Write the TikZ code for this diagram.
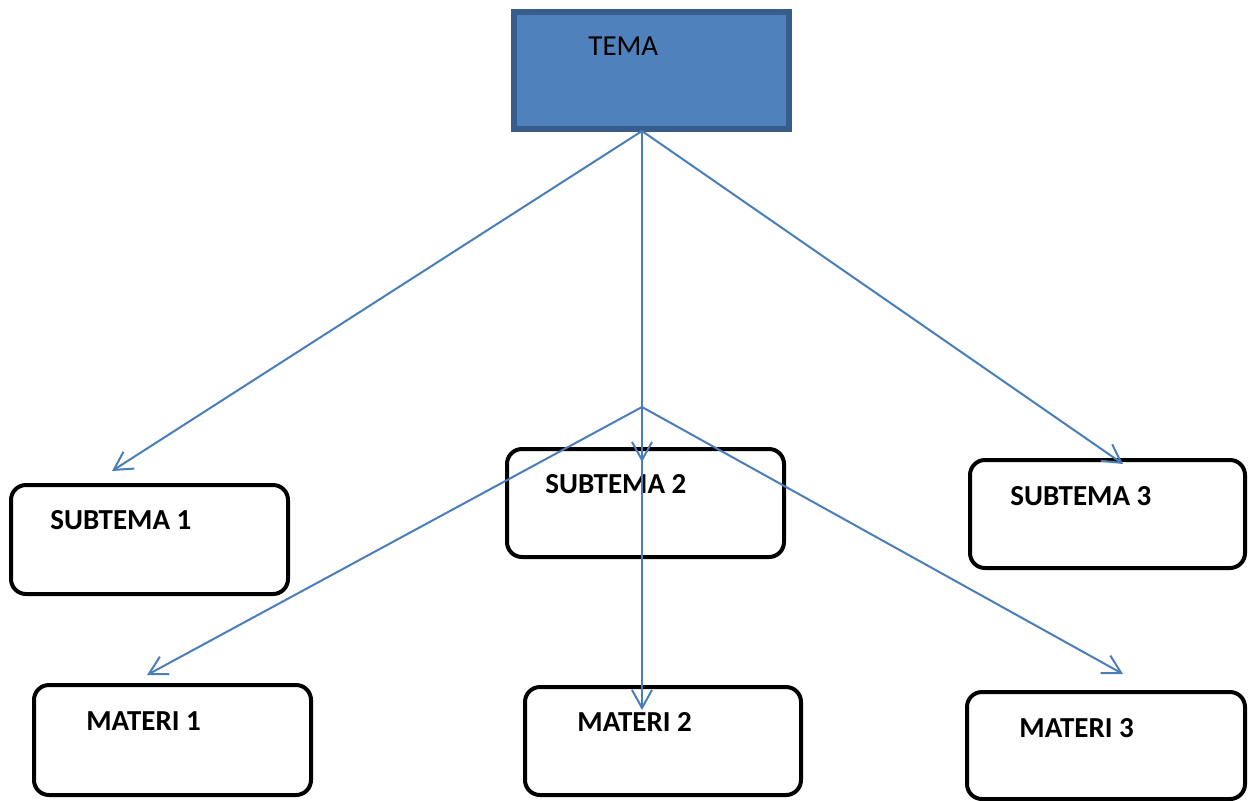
\documentclass[tikz,border=0pt]{standalone}
\usepackage{fontspec}
\setmainfont{Carlito}
\usetikzlibrary{arrows.meta}
\definecolor{arrowblue}{HTML}{4A7EBB}
\definecolor{temafill}{HTML}{4F81BD}
\definecolor{temaline}{HTML}{385D8A}
\begin{document}
\begin{tikzpicture}[x=0.5pt,y=-0.5pt,
  box/.style={draw=black,line width=2pt,rounded corners=7.5pt,fill=white},
  lbl/.style={anchor=base west,inner sep=0pt,font=\fontsize{14.5pt}{17pt}\selectfont\bfseries},
  conn/.style={draw=arrowblue,line width=1pt,-{Straight Barb[length=9pt,width=10pt]}}]
\useasboundingbox (0,0) rectangle (1248,800);
% TEMA
\draw[fill=temafill,draw=temaline,line width=2.6pt] (514,12) rectangle (789,129);
\node[anchor=base west,inner sep=0pt,font=\fontsize{14.5pt}{17pt}\selectfont] (tema) at (588,55) {TEMA};
% boxes
\draw[box] (11,485) rectangle (288,594);
\draw[box] (507,449) rectangle (784,557);
\draw[box] (970,460) rectangle (1245,568);
\draw[box] (34,685) rectangle (311,795);
\draw[box] (525,687) rectangle (801,795);
\draw[box] (967,692) rectangle (1245,799);
\node[lbl] (s1) at (50,529) {SUBTEMA 1};
\node[lbl] (s2) at (545,493) {SUBTEMA 2};
\node[lbl] (s3) at (1010,505) {SUBTEMA 3};
\node[lbl] (m1) at (86,730) {MATERI 1};
\node[lbl] (m2) at (577,731) {MATERI 2};
\node[lbl] (m3) at (1019,737) {MATERI 3};
% connector points
\coordinate (tb) at (642,131);
\coordinate (br) at (642,407);
\coordinate (s1tip) at (112,471);
\coordinate (s2tip) at (642,462);
\coordinate (s3tip) at (1123,464);
\coordinate (m1tip) at (147,675);
\coordinate (m2tip) at (642,710);
\coordinate (m3tip) at (1123,674);
\draw[conn] (tb) -- (s1tip);
\draw[conn] (tb) -- (s2tip);
\draw[conn] (tb) -- (s3tip);
\draw[conn] (br) -- (m1tip);
\draw[conn] (br) -- (m2tip);
\draw[conn] (br) -- (m3tip);
\end{tikzpicture}
\end{document}
